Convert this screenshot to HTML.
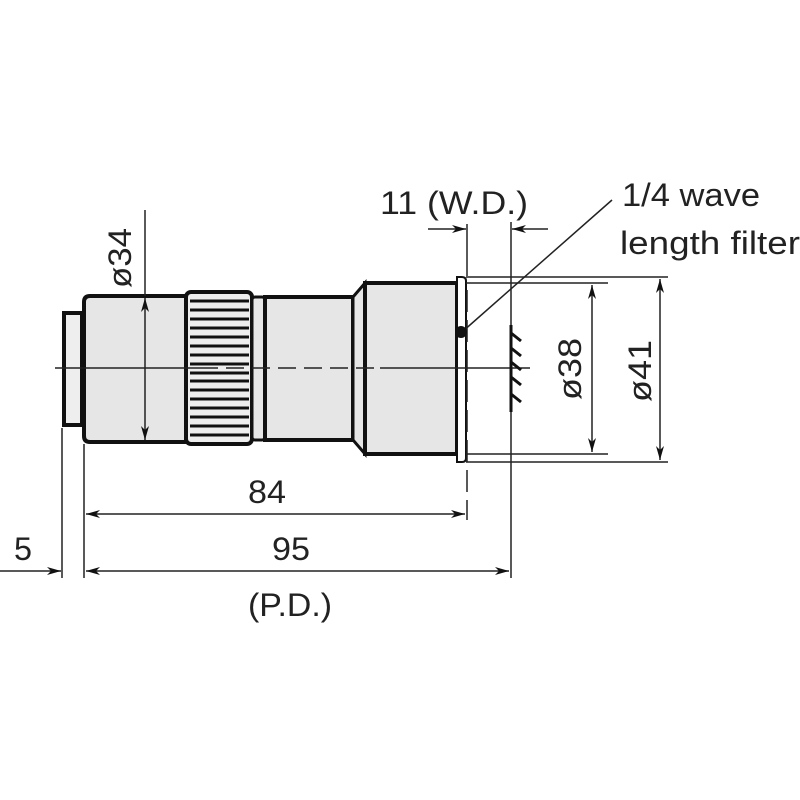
<!DOCTYPE html>
<html><head><meta charset="utf-8"><style>html,body{margin:0;padding:0;background:#fff}svg{display:block}text{font-family:"Liberation Sans",sans-serif;fill:#222}</style></head>
<body>
<svg width="800" height="800" viewBox="0 0 800 800" xmlns="http://www.w3.org/2000/svg">
<defs>
<marker id="a" markerWidth="14" markerHeight="8" refX="14" refY="4" orient="auto" markerUnits="userSpaceOnUse"><path d="M0,0 L14,4 L0,8 L4,4 Z" fill="#111"/></marker>
<marker id="b" markerWidth="14" markerHeight="8" refX="0" refY="4" orient="auto" markerUnits="userSpaceOnUse"><path d="M14,0 L0,4 L14,8 L10,4 Z" fill="#111"/></marker>
</defs>
<g stroke="#111" fill="#e6e6e6">
<!-- cap -->
<rect x="64" y="313" width="18" height="112" stroke-width="4" fill="#eee"/>
<!-- main body -->
<path d="M90,296 H186 V442 H90 Q84,442 84,436 V302 Q84,296 90,296 Z" stroke-width="4"/>
<!-- knurl -->
<rect x="186" y="292" width="66" height="152" rx="5" stroke-width="4" fill="#eee"/>
<!-- ring -->
<rect x="252" y="297" width="13" height="143" rx="3" stroke-width="3"/>
<!-- body2 -->
<rect x="265" y="297" width="88" height="143" stroke-width="4"/>
<!-- bevel -->
<path d="M353,297 L365,283 V454 L353,440 Z" stroke-width="3"/>
<!-- big body -->
<rect x="365" y="283" width="92" height="171" stroke-width="4"/>
<!-- lip -->
<path d="M457,277 H462 Q466,277 466,281 V458 Q466,462 462,462 H457 Z" stroke-width="2" fill="#fff"/>
</g>
<g stroke="#111" stroke-width="3">
<line x1="190" y1="301" x2="249" y2="301"/><line x1="190" y1="310" x2="249" y2="310"/><line x1="190" y1="319" x2="249" y2="319"/><line x1="190" y1="328" x2="249" y2="328"/><line x1="190" y1="337" x2="249" y2="337"/><line x1="190" y1="346" x2="249" y2="346"/><line x1="190" y1="355" x2="249" y2="355"/><line x1="190" y1="381" x2="249" y2="381"/><line x1="190" y1="390" x2="249" y2="390"/><line x1="190" y1="399" x2="249" y2="399"/><line x1="190" y1="408" x2="249" y2="408"/><line x1="190" y1="417" x2="249" y2="417"/><line x1="190" y1="426" x2="249" y2="426"/><line x1="190" y1="435" x2="249" y2="435"/>
<line x1="190" y1="364" x2="249" y2="364"/><line x1="190" y1="373" x2="249" y2="373"/>
</g>
<g stroke="#222" stroke-width="1.5" fill="none">
<!-- centerline -->
<line x1="55" y1="368" x2="200" y2="368"/>
<line x1="200" y1="368" x2="380" y2="368" stroke-dasharray="18,8"/>
<line x1="380" y1="368" x2="530" y2="368"/>
<!-- top/bottom extension -->
<line x1="466" y1="277" x2="668" y2="277"/><line x1="466" y1="283" x2="608" y2="283"/>
<line x1="466" y1="454" x2="608" y2="454"/><line x1="466" y1="462" x2="668" y2="462"/>
<!-- verticals -->
<line x1="467" y1="224" x2="467" y2="276"/>
<line x1="467" y1="290" x2="467" y2="520" stroke-dasharray="22,8"/>
<line x1="511" y1="222" x2="511" y2="578"/>
<line x1="62" y1="428" x2="62" y2="578"/>
<line x1="84" y1="444" x2="84" y2="578"/>
<line x1="145" y1="210" x2="145" y2="296"/>
<!-- dims -->
<line x1="145" y1="298" x2="145" y2="440" marker-start="url(#b)" marker-end="url(#a)"/>
<line x1="86" y1="514" x2="465" y2="514" marker-start="url(#b)" marker-end="url(#a)"/>
<line x1="86" y1="571" x2="509" y2="571" marker-start="url(#b)" marker-end="url(#a)"/>
<line x1="0" y1="571" x2="61" y2="571" marker-end="url(#a)"/>
<line x1="428" y1="229" x2="466" y2="229" marker-end="url(#a)"/>
<line x1="548" y1="229" x2="512" y2="229" marker-end="url(#a)"/>
<line x1="592" y1="285" x2="592" y2="452" marker-start="url(#b)" marker-end="url(#a)"/>
<line x1="660" y1="279" x2="660" y2="460" marker-start="url(#b)" marker-end="url(#a)"/>
<!-- leader -->
<line x1="462" y1="332" x2="612" y2="200"/>
</g>
<circle cx="461" cy="332" r="6" fill="#111"/>
<g stroke="#111" stroke-width="3"><line x1="511" y1="325" x2="511" y2="412"/>
<line x1="511" y1="333" x2="521" y2="341"/><line x1="511" y1="348" x2="521" y2="356"/><line x1="511" y1="362" x2="521" y2="370"/><line x1="511" y1="377" x2="521" y2="385"/><line x1="511" y1="394" x2="521" y2="402"/></g>
<g font-size="32">
<text x="380" y="214" textLength="148" lengthAdjust="spacingAndGlyphs">11 (W.D.)</text>
<text x="622" y="206" textLength="138" lengthAdjust="spacingAndGlyphs">1/4 wave</text>
<text x="620" y="254" textLength="180" lengthAdjust="spacingAndGlyphs">length filter</text>
<text x="248" y="503" textLength="38" lengthAdjust="spacingAndGlyphs">84</text>
<text x="272" y="560" textLength="38" lengthAdjust="spacingAndGlyphs">95</text>
<text x="14" y="560" textLength="18" lengthAdjust="spacingAndGlyphs">5</text>
<text x="248" y="616" textLength="84" lengthAdjust="spacingAndGlyphs">(P.D.)</text>
<text transform="translate(131,288) rotate(-90)" textLength="60" lengthAdjust="spacingAndGlyphs">ø34</text>
<text transform="translate(581,400) rotate(-90)" textLength="62" lengthAdjust="spacingAndGlyphs">ø38</text>
<text transform="translate(651,402) rotate(-90)" textLength="62" lengthAdjust="spacingAndGlyphs">ø41</text>
</g>
</svg>
</body></html>
